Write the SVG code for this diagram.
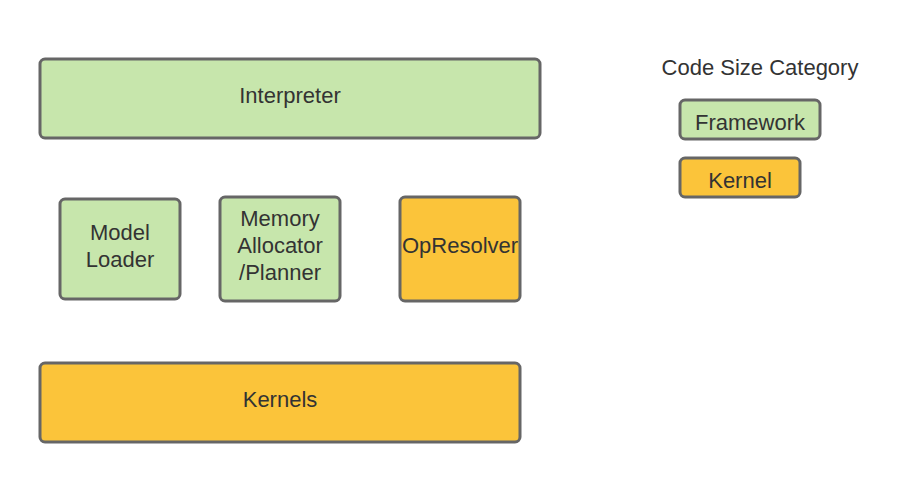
<svg xmlns="http://www.w3.org/2000/svg" width="920" height="483" viewBox="0 0 920 483">
<style>
.box{stroke:#666;stroke-width:3}
.fw{fill:#c7e6ac}
.kn{fill:#fbc43a}
text{font-family:"Liberation Sans",Arial,sans-serif;font-size:22px;fill:#333;text-anchor:middle}
</style>
<rect width="920" height="483" fill="#fff"/>
<g id="interpreter"><rect class="box fw" x="40" y="59" width="500" height="79" rx="5"/><text x="290" y="103">Interpreter</text></g>
<g id="model-loader"><rect class="box fw" x="60" y="199" width="120" height="100" rx="5"/><text x="120" y="240">Model</text><text x="120" y="267">Loader</text></g>
<g id="memory-allocator"><rect class="box fw" x="220" y="197" width="120" height="104" rx="5"/><text x="280" y="226">Memory</text><text x="280" y="253">Allocator</text><text x="280" y="280">/Planner</text></g>
<g id="opresolver"><rect class="box kn" x="400" y="197" width="120" height="104" rx="5"/><text x="460" y="253">OpResolver</text></g>
<g id="kernels"><rect class="box kn" x="40" y="363" width="480" height="79" rx="5"/><text x="280" y="407">Kernels</text></g>
<g id="legend">
<text x="760" y="75">Code Size Category</text>
<g id="legend-framework"><rect class="box fw" x="680" y="100" width="140" height="39" rx="5"/><text x="750" y="130">Framework</text></g>
<g id="legend-kernel"><rect class="box kn" x="680" y="158" width="120" height="39" rx="5"/><text x="740" y="188">Kernel</text></g>
</g>
<g id="connectors"></g>
</svg>
